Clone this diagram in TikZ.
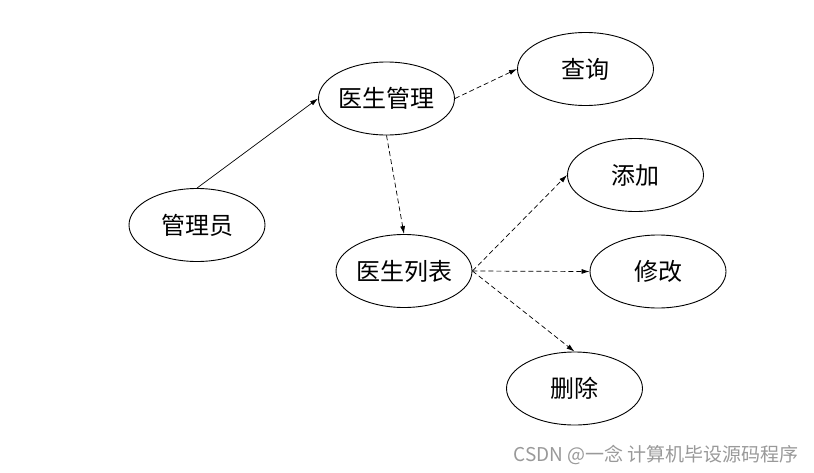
\documentclass[tikz,border=0pt]{standalone}
\usepackage{fontspec}
\newfontfamily\cjk{Noto Sans CJK SC}
\usetikzlibrary{shapes.geometric,arrows.meta}
\begin{document}
\begin{tikzpicture}[x=1pt,y=-1pt,
    oval/.style={ellipse,draw,line width=0.9pt,minimum width=136pt,minimum height=73pt,
      inner sep=0pt,font=\cjk\fontsize{24}{28}\selectfont},
    link/.style={line width=0.7pt,-{Latex[length=8pt,width=5pt]}},
    dlink/.style={link,dash pattern=on 5pt off 3pt}]
  \useasboundingbox (0,0) rectangle (814,472);
  % ---- the nodes ----
  \node[oval] (adm)  at (197,225)   {管理员};
  \node[oval] (dm)   at (386.5,98.5) {医生管理};
  \node[oval] (qry)  at (585.5,69)  {查询};
  \node[oval] (dl)   at (404,271)   {医生列表};
  \node[oval] (add)  at (635.5,175) {添加};
  \node[oval] (edit) at (658,271.5) {修改};
  \node[oval] (del)  at (574.5,388.5) {删除};
  % ---- the connectors ----
  \draw[link]  (adm.north) -- (dm.west);
  \draw[dlink] (dm.east)   -- (qry.west);
  \draw[dlink] (dm.south)  -- (dl.north);
  \draw[dlink] (dl.east)   -- (add.west);
  \draw[dlink] (dl.east)   -- (edit.west);
  \draw[dlink] (dl.east)   -- (del.north);
  % ---- watermark ----
  \node[text=black!40,font=\cjk\fontsize{19}{22}\selectfont,anchor=east,inner sep=0pt] (wm) at (799,455)
    {CSDN @一念 计算机毕设源码程序};
\end{tikzpicture}
\end{document}
